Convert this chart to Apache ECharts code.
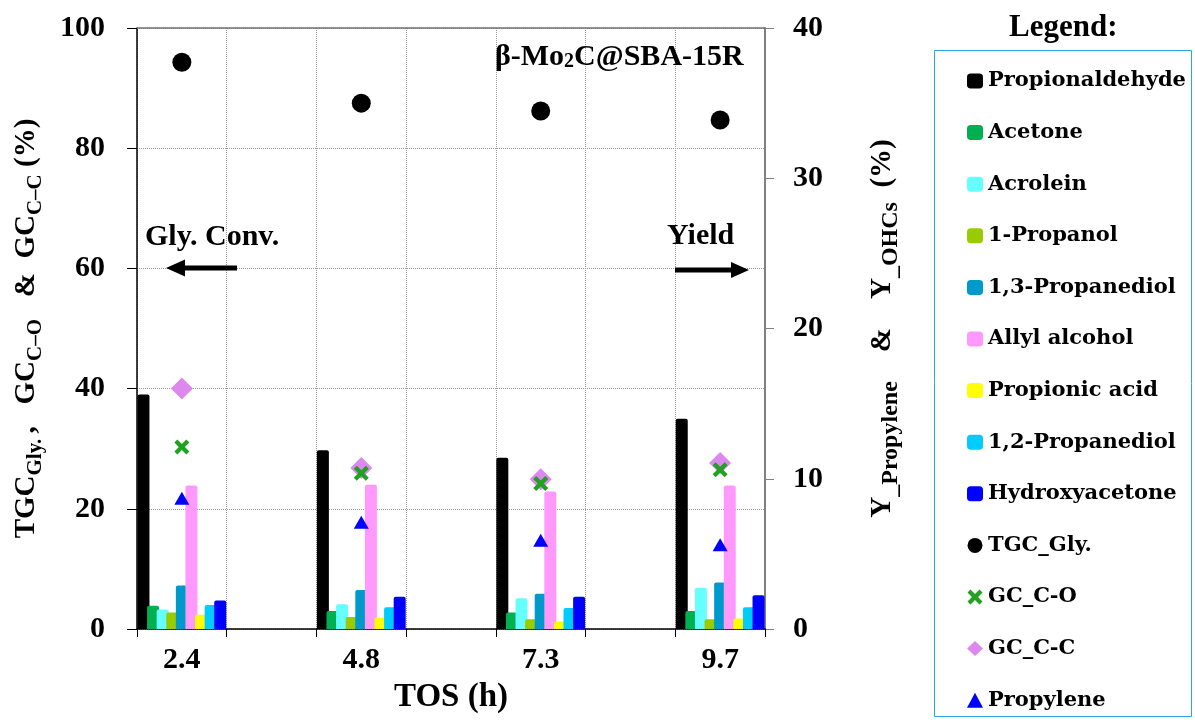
<!DOCTYPE html>
<html><head><meta charset="utf-8">
<script src="https://cdn.jsdelivr.net/npm/echarts@6/dist/echarts.min.js"></script>
<style>html,body{margin:0;padding:0;background:#fff}#c{width:1195px;height:723px}</style>
</head><body><div id="c"></div>
<script>
// ---- data ----
const tos = ['2.4', '4.8', '7.3', '9.7'];
const barNames = ['Propionaldehyde','Acetone','Acrolein','1-Propanol','1,3-Propanediol','Allyl alcohol','Propionic acid','1,2-Propanediol','Hydroxyacetone'];
const propionaldehyde = [15.6, 11.9, 11.4, 14.0];
const acetone        = [1.55, 1.2, 1.1, 1.2];
const acrolein       = [1.3, 1.65, 2.05, 2.75];
const propanol1      = [1.1, 0.8, 0.65, 0.65];
const propanediol13  = [2.9, 2.6, 2.35, 3.1];
const allylAlcohol   = [9.55, 9.6, 9.15, 9.55];
const propionicAcid  = [0.95, 0.75, 0.5, 0.7];
const propanediol12  = [1.6, 1.45, 1.4, 1.45];
const hydroxyacetone = [1.9, 2.15, 2.15, 2.25];
const tgcGly   = [94.3, 87.5, 86.2, 84.7];
const gcCO     = [30.3, 25.9, 24.2, 26.5];
const gcCC     = [40.0, 26.8, 24.9, 27.6];
const propylene = [8.7, 7.1, 5.9, 5.6];

// ---- build ----
const FONT = 'Liberation Serif';
const slots = [];
tos.forEach((t, i) => { slots.push(t); if (i < tos.length - 1) slots.push(''); });
const spread = arr => { const o = []; arr.forEach((v, i) => { o.push(v); if (i < arr.length - 1) o.push(null); }); return o; };

const barData = [propionaldehyde, acetone, acrolein, propanol1, propanediol13, allylAlcohol, propionicAcid, propanediol12, hydroxyacetone];
const barColors = ['#000000','#00b050','#66ffff','#99cc00','#0099cc','#ff99ff','#ffff00','#00ccff','#0000ff'];

const series = barData.map((d, i) => ({
  name: barNames[i], type: 'bar', yAxisIndex: 1, data: spread(d),
  barWidth: 12, barGap: '-20%',
  itemStyle: { color: barColors[i], borderRadius: [2, 2, 0, 0] }
}));
const xPath = 'path://M0,2 L2,0 L5,3 L8,0 L10,2 L7,5 L10,8 L8,10 L5,7 L2,10 L0,8 L3,5 Z';
series.push(
  { name: 'TGC_Gly.', type: 'scatter', yAxisIndex: 0, data: spread(tgcGly), symbol: 'circle', symbolSize: 19, z: 5, itemStyle: { color: '#000', opacity: 1 } },
  { name: 'GC_C-C', type: 'scatter', yAxisIndex: 0, data: spread(gcCC), symbol: 'diamond', symbolSize: 22, z: 5, itemStyle: { color: '#dd88ee', opacity: 1 } },
  { name: 'GC_C-O', type: 'scatter', yAxisIndex: 0, data: spread(gcCO), symbol: xPath, symbolSize: 15, z: 6, itemStyle: { color: '#1fa21f', opacity: 1 } },
  { name: 'Propylene', type: 'scatter', yAxisIndex: 1, data: spread(propylene), symbol: 'triangle', symbolSize: [15, 13], z: 6, itemStyle: { color: '#0000ff', opacity: 1 } }
);

const big = { fontFamily: FONT, fontWeight: 'bold', fontSize: 29, color: '#000', lineHeight: 40, verticalAlign: 'middle' };
const sub = { fontFamily: FONT, fontWeight: 'bold', fontSize: 21, color: '#000', lineHeight: 40, verticalAlign: 'bottom', padding: [0, 0, 1, 0] };
const subR = { fontFamily: FONT, fontWeight: 'bold', fontSize: 24, color: '#000', lineHeight: 40, verticalAlign: 'bottom', padding: [0, 0, 0, 0] };

const chart = echarts.init(document.getElementById('c'), null, { renderer: 'canvas' });
chart.setOption({
  animation: false,
  backgroundColor: '#fff',
  grid: { left: 137, right: 430, top: 28, bottom: 94, containLabel: false, outerBoundsMode: 'none' },
  legend: {
    orient: 'vertical', left: 962, top: 65.5, itemGap: 30.6,
    itemWidth: 16, itemHeight: 15, selectedMode: false,
    data: barNames.concat(['TGC_Gly.', 'GC_C-O', 'GC_C-C', 'Propylene']),
    textStyle: { fontFamily: 'DejaVu Serif', fontWeight: 'bold', fontSize: 21, color: '#000', lineHeight: 21 }
  },
  xAxis: {
    type: 'category', data: slots, boundaryGap: true,
    name: 'TOS (h)', nameLocation: 'middle', nameGap: 52,
    nameTextStyle: { fontFamily: FONT, fontWeight: 'bold', fontSize: 33, color: '#000' },
    axisLine: { lineStyle: { color: '#000', width: 1.5 } },
    axisTick: { show: true, interval: 0, length: 8, lineStyle: { color: '#000' } },
    axisLabel: { interval: 0, margin: 16, fontFamily: FONT, fontWeight: 'bold', fontSize: 30, color: '#000' },
    splitLine: { show: true, interval: 0, lineStyle: { color: '#999', type: 'dotted', width: 1 } }
  },
  yAxis: [
    {
      type: 'value', min: 0, max: 100, interval: 20, position: 'left',
      name: '{b|TGC}{s|Gly. }{b|,   GC}{s|C–O}{b|   &  GC}{s|C–C}{b| (%)}',
      nameLocation: 'middle', nameGap: 90,
      nameTextStyle: { rich: { b: big, s: sub } },
      axisLine: { show: true, lineStyle: { color: '#000', width: 1.5 } },
      axisTick: { show: true, length: 10, lineStyle: { color: '#000' } },
      axisLabel: { margin: 32, fontFamily: FONT, fontWeight: 'bold', fontSize: 30, color: '#000' },
      splitLine: { show: true, lineStyle: { color: '#999', type: 'dotted', width: 1 } }
    },
    {
      type: 'value', min: 0, max: 40, interval: 10, position: 'right',
      name: '{b|Y}{s|_Propylene}{b|    &    Y}{s|_OHCs}{b|  (%)}',
      nameLocation: 'middle', nameGap: 98,
      nameTextStyle: { rich: { b: big, s: subR } },
      axisLine: { show: true, lineStyle: { color: '#808080', width: 2 } },
      axisTick: { show: true, length: 9, lineStyle: { color: '#808080' } },
      axisLabel: { margin: 28, fontFamily: FONT, fontWeight: 'bold', fontSize: 30, color: '#000' },
      splitLine: { show: false }
    }
  ],
  graphic: [
    { type: 'line', shape: { x1: 137, y1: 28, x2: 765, y2: 28 }, style: { stroke: '#707070', lineWidth: 1.5 }, z: 10 },
    { type: 'text', left: 495, top: 42, z: 20,
      style: { text: '{b|β-Mo}{s|2}{b|C@SBA-15R}', rich: {
        b: { fontFamily: FONT, fontWeight: 'bold', fontSize: 30, lineHeight: 36, verticalAlign: 'middle', fill: '#000' },
        s: { fontFamily: FONT, fontWeight: 'bold', fontSize: 20, lineHeight: 36, verticalAlign: 'bottom', fill: '#000', padding: [0, 0, 3, 0] } } } },
    { type: 'text', left: 145, top: 222, z: 20, style: { text: 'Gly. Conv.', font: 'bold 30px "Liberation Serif"', fill: '#000' } },
    { type: 'line', shape: { x1: 237, y1: 268, x2: 182, y2: 268 }, style: { stroke: '#000', lineWidth: 5 }, z: 20 },
    { type: 'polygon', shape: { points: [[166, 268], [185, 259.5], [185, 276.5]] }, style: { fill: '#000' }, z: 20 },
    { type: 'text', left: 667, top: 221, z: 20, style: { text: 'Yield', font: 'bold 30px "Liberation Serif"', fill: '#000' } },
    { type: 'line', shape: { x1: 675, y1: 270, x2: 734, y2: 270 }, style: { stroke: '#000', lineWidth: 5 }, z: 20 },
    { type: 'polygon', shape: { points: [[749, 270], [731, 262], [731, 278]] }, style: { fill: '#000' }, z: 20 },
    { type: 'text', left: 1009, top: 12, z: 20, style: { text: 'Legend:', font: 'bold 31px "Liberation Serif"', fill: '#000' } },
    { type: 'rect', shape: { x: 934.5, y: 50.5, width: 257, height: 666 }, style: { fill: 'none', stroke: '#2aa7e0', lineWidth: 1 }, z: 1 }
  ],
  series: series
});
</script></body></html>
